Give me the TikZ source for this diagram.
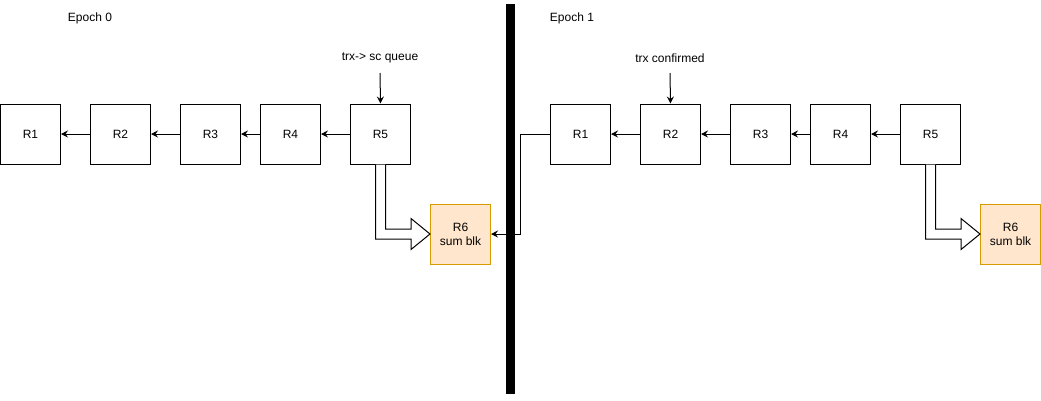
\documentclass[tikz,border=0pt]{standalone}
\usepackage{fontspec}
\setmainfont{Liberation Sans}
\usetikzlibrary{arrows.meta,calc}
\definecolor{sumfill}{HTML}{FFE6CC}
\definecolor{sumdraw}{HTML}{D79B00}
\begin{document}
\begin{tikzpicture}[x=1pt,y=-1pt,
  txt/.style={font=\fontsize{12}{14}\selectfont, inner sep=0pt},
  box/.style={draw, line width=1pt, minimum width=60pt, minimum height=60pt, inner sep=0pt, align=center, font=\fontsize{12}{14}\selectfont},
  sumbox/.style={box, draw=sumdraw, fill=sumfill},
  arr/.style={-{Stealth[length=7pt,width=7pt,inset=2.5pt]}, line width=1pt},
  fat/.style={draw, line width=1pt, fill=white, line join=miter}]
\useasboundingbox (0,0) rectangle (1041,400);
% bar
\coordinate (bartop) at (510.5,4);
\coordinate (barbot) at (510.5,394);
\draw[line width=9pt] (bartop) -- (barbot);
% labels
\node[txt] (ep0) at (90,18) {Epoch 0};
\node[txt] (ep1) at (572,18) {Epoch 1};
\node[txt] (lq) at (380,58) {trx-> sc queue};
\node[txt] (lc) at (670,58) {trx confirmed};
\coordinate (q0) at (380,73);
\coordinate (q1) at (670,73);
% left boxes
\node[box] (a1) at (30.5,134) {R1};
\node[box] (a2) at (120.5,134) {R2};
\node[box] (a3) at (210.5,134) {R3};
\node[box] (a4) at (290.5,134) {R4};
\node[box] (a5) at (380.5,134) {R5};
\node[sumbox] (a6) at (460.5,234) {R6\\sum blk};
% right boxes
\node[box] (b1) at (580.5,134) {R1};
\node[box] (b2) at (670.5,134) {R2};
\node[box] (b3) at (760.5,134) {R3};
\node[box] (b4) at (840.5,134) {R4};
\node[box] (b5) at (930.5,134) {R5};
\node[sumbox] (b6) at (1010.5,234) {R6\\sum blk};
% chain arrows
\foreach \s/\t in {a2/a1,a3/a2,a4/a3,a5/a4,b2/b1,b3/b2,b4/b3,b5/b4}
  \draw[arr] (\s.west) -- (\t.east);
\draw[arr] (q0) -- (a5.north);
\draw[arr] (q1) -- (b2.north);
\draw[arr] (b1.west) -- ++(-30,0) |- (a6.east);
% fat arrows
\foreach \s/\t in {a5/a6,b5/b6}{
  \draw[fat] ($(\s.south)+(-5,0)$) |- ($(\t.west)+(-19,5)$) -- ($(\t.west)+(-19,15.5)$)
    -- (\t.west) -- ($(\t.west)+(-19,-15.5)$) -- ($(\t.west)+(-19,-5)$)
    -| ($(\s.south)+(5,0)$);
}
\end{tikzpicture}
\end{document}
